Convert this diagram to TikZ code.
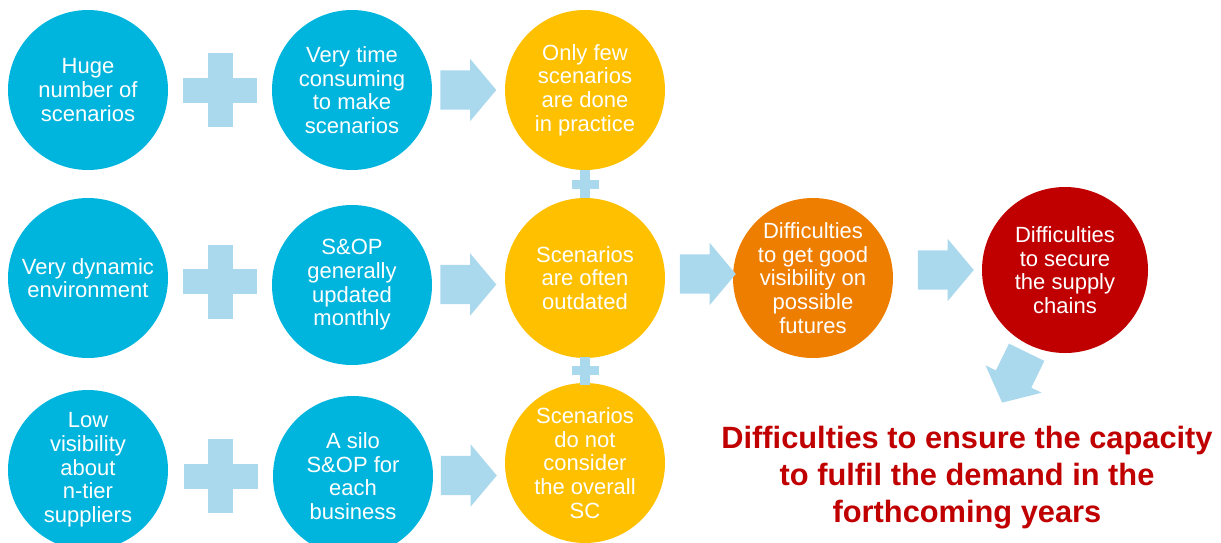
\documentclass[tikz,border=0pt]{standalone}
\usepackage{fontspec}
\setmainfont{Liberation Sans}
\usepackage{tikz}
\usetikzlibrary{shapes,arrows}
\usetikzlibrary{calc}

\definecolor{bubbleblue}{RGB}{0,181,221}
\definecolor{paleblue}{RGB}{170,216,236}
\definecolor{bubbleyellow}{RGB}{255,192,0}
\definecolor{bubbleorange}{RGB}{238,126,0}
\definecolor{bubblered}{RGB}{192,0,0}

\tikzset{
  bigplus/.pic={
    \fill[paleblue] (-37,-12.5) rectangle (37,12.5);
    \fill[paleblue] (-12.5,-37) rectangle (12.5,37);
  },
  smallplus/.pic={
    \fill[paleblue] (-13.5,-4.5) rectangle (13.5,4.5);
    \fill[paleblue] (-5,-14) rectangle (5,14);
  }
}

\begin{document}
\begin{tikzpicture}[x=1pt,y=-1pt]
\tikzstyle{bubble} = [circle,minimum size=160pt,inner sep=0pt,text=white,align=center,font=\fontsize{22}{23.7}\selectfont]
\tikzstyle{cause} = [bubble,fill=bubbleblue]
\tikzstyle{effect} = [bubble,fill=bubbleyellow]
\tikzstyle{fatarrow} = [single arrow,fill=paleblue,inner xsep=0pt,inner ysep=19.5pt,minimum height=56pt,minimum width=62pt,single arrow head extend=11.5pt,single arrow tip angle=100]
\useasboundingbox (0,0) rectangle (1221,542);
\clip (0,0) rectangle (1221,542);
% first column
\node[cause] (h1) at (88,90) {Huge\\number of\\scenarios};
\node[cause] (h2) at (88,278) {Very dynamic\\environment};
\node[cause] (h3) at (88,470) {Low\\visibility\\about\\n-tier\\suppliers};
% second column
\node[cause] (t1) at (352,90) {Very time\\consuming\\to make\\scenarios};
\node[cause] (t2) at (352,285) {S\&OP\\generally\\updated\\monthly};
\node[cause] (t3) at (353,476) {A silo\\S\&OP for\\each\\business};
% third column
\node[effect] (s1) at (585,90) {Only few\\scenarios\\are done\\in practice};
\node[effect] (s2) at (585,278) {Scenarios\\are often\\outdated};
\node[effect] (s3) at (585,463) {Scenarios\\do not\\consider\\the overall\\SC};
% consequences
\node[bubble,fill=bubbleorange] (o) at (813,278) {Difficulties\\to get good\\visibility on\\possible\\futures};
\node[bubble,fill=bubblered,minimum size=166pt] (r) at (1065,270) {Difficulties\\to secure\\the supply\\chains};
\node[text=bubblered,align=center,inner sep=0pt,font=\fontsize{30.8}{37}\selectfont\bfseries] (goal) at (967,478) {Difficulties to ensure the capacity\\to fulfil the demand in the\\forthcoming years};
% plus signs
\pic at ($(h1)!0.5!(t1)$) {bigplus};
\pic at ($(h2)!0.5!(t2)$) {bigplus};
\pic at ($(h3)!0.5!(t3)+(0,3)$) {bigplus};
\pic at ($(s1)!0.5!(s2)$) {smallplus};
\pic at ($(s2)!0.5!(s3)$) {smallplus};
% block arrows
\node[fatarrow] (a1) at ($(t1)!0.5!(s1)+(-8.5,0)$) {};
\node[fatarrow] (a2) at ($(t2)!0.5!(s2)+(-8.5,3)$) {};
\node[fatarrow] (a3) at ($(t3)!0.5!(s3)+(-8.5,6)$) {};
\node[fatarrow] (a4) at ($(s2)!0.5!(o)+(0.5,-4)$) {};
\node[fatarrow] (a5) at ($(o)!0.5!(r)+(-1.5,-4)$) {};
\node[fatarrow,rotate=244] (a6) at ($(r)+(-47,100)$) {};
\end{tikzpicture}
\end{document}
